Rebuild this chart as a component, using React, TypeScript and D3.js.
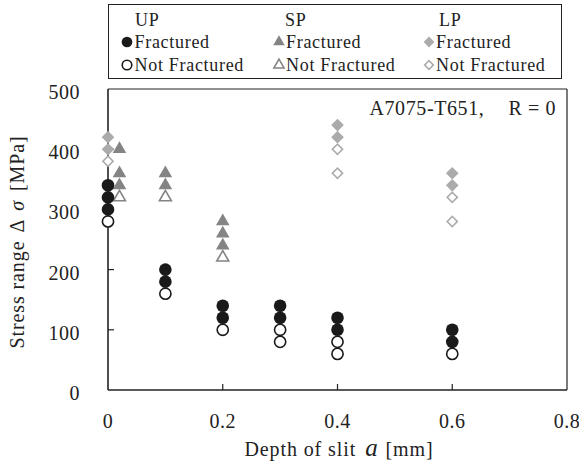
import React from "react";
import * as d3 from "d3";

const xTicks = [0, 0.2, 0.4, 0.6, 0.8];
const yTicks = [0, 100, 200, 300, 400, 500];

// UP
const upFracX = [0, 0, 0, 0.1, 0.1, 0.2, 0.2, 0.3, 0.3, 0.4, 0.4, 0.6, 0.6];
const upFracY = [340, 320, 300, 200, 180, 140, 120, 140, 120, 120, 100, 100, 80];
const upNotX = [0, 0.1, 0.2, 0.3, 0.3, 0.4, 0.4, 0.6];
const upNotY = [280, 160, 100, 100, 80, 80, 60, 60];
// SP
const spFracX = [0.02, 0.02, 0.02, 0.1, 0.1, 0.2, 0.2, 0.2];
const spFracY = [400, 360, 340, 360, 340, 280, 260, 240];
const spNotX = [0.02, 0.1, 0.2];
const spNotY = [320, 320, 220];
// LP
const lpFracX = [0, 0, 0.4, 0.4, 0.6, 0.6];
const lpFracY = [420, 400, 440, 420, 360, 340];
const lpNotX = [0, 0.4, 0.4, 0.6, 0.6];
const lpNotY = [380, 400, 360, 320, 280];

const W = 579;
const H = 472;
const left = 108;
const right = 567;
const top = 89;
const bottom = 390;

const FONT = "'Liberation Serif', serif";
const TXT = "#222";
const UPC = "#1a1a1a";
const SPC = "#848484";
const LPC = "#ababab";

const x = d3.scaleLinear().domain([0, 0.8]).range([left, right]);
const y = d3.scaleLinear().domain([0, 500]).range([bottom, top]);

const circlePath = d3.symbol().type(d3.symbolCircle).size(Math.PI * 6.3 * 6.3)()!;
const circleOpenPath = d3.symbol().type(d3.symbolCircle).size(Math.PI * 5.6 * 5.6)()!;
const triPath = d3.symbol().type(d3.symbolTriangle).size(80)()!;
const triOpenPath = d3.symbol().type(d3.symbolTriangle).size(62)()!;
const diaPath = d3.symbol().type(d3.symbolSquare).size(80)()!;
const diaOpenPath = d3.symbol().type(d3.symbolSquare).size(52)()!;

type Mk = "circle" | "tri" | "dia";

function Marker({ cx, cy, kind, filled, color, scale = 1 }: { cx: number; cy: number; kind: Mk; filled: boolean; color: string; scale?: number }) {
  let d = "";
  let rot = 0;
  if (kind === "circle") d = filled ? circlePath : circleOpenPath;
  if (kind === "tri") d = filled ? triPath : triOpenPath;
  if (kind === "dia") { d = filled ? diaPath : diaOpenPath; rot = 45; }
  return (
    <path
      d={d}
      transform={`translate(${cx},${cy}) rotate(${rot}) scale(${scale})`}
      fill={filled ? color : "#fff"}
      stroke={filled ? "none" : color}
      strokeWidth={filled ? 0 : 1.6 / scale}
    />
  );
}

function Series({ xs, ys, kind, filled, color }: { xs: number[]; ys: number[]; kind: Mk; filled: boolean; color: string }) {
  return (
    <g>
      {xs.map((v, i) => (
        <Marker key={i} cx={x(v)} cy={y(ys[i])} kind={kind} filled={filled} color={color} />
      ))}
    </g>
  );
}

export default function App() {
  const legendCols = [
    { name: "UP", kind: "circle" as Mk, color: UPC, mx: 127, tx: 134.5, hx: 135 },
    { name: "SP", kind: "tri" as Mk, color: SPC, mx: 279, tx: 286, hx: 285 },
    { name: "LP", kind: "dia" as Mk, color: LPC, mx: 429, tx: 436, hx: 439 },
  ];
  return (
    <svg width={W} height={H} style={{ position: "absolute", left: 0, top: 0 }} fontFamily={FONT}>
      <rect width={W} height={H} fill="#fff" />
      {/* legend */}
      <rect x={108.5} y={4.5} width={453} height={74} fill="#fff" stroke={TXT} strokeWidth={1} />
      {legendCols.map((c) => (
        <g key={c.name} fontSize={18} fill={TXT} letterSpacing={0.7}>
          <text x={c.hx} y={26}>{c.name}</text>
          <Marker cx={c.mx} cy={42} kind={c.kind} filled={true} color={c.color} scale={0.85} />
          <text x={c.tx} y={48}>Fractured</text>
          <Marker cx={c.mx} cy={65} kind={c.kind} filled={false} color={c.color} scale={0.85} />
          <text x={c.tx} y={71}>Not Fractured</text>
        </g>
      ))}

      {/* plot frame */}
      <line x1={left} x2={right} y1={top} y2={top} stroke={TXT} strokeWidth={1.2} />
      <line x1={right} x2={right} y1={top} y2={bottom} stroke={TXT} strokeWidth={1.2} />
      <line x1={left} x2={left} y1={top} y2={bottom} stroke={TXT} strokeWidth={1.6} />
      <line x1={left} x2={right} y1={bottom} y2={bottom} stroke={TXT} strokeWidth={1.6} />

      {xTicks.map((t) => (
        <g key={"x" + t}>
          {t > 0 && t < 0.8 && <line x1={x(t)} x2={x(t)} y1={bottom} y2={bottom - 6} stroke={TXT} strokeWidth={1.2} />}
          <text x={x(t)} y={428} textAnchor="middle" fontSize={20} letterSpacing={0.5} fill={TXT}>{t === 0 ? "0" : t.toFixed(1)}</text>
        </g>
      ))}
      {yTicks.map((t) => (
        <g key={"y" + t}>
          {t > 0 && t < 500 && <line x1={left} x2={left + 6} y1={y(t)} y2={y(t)} stroke={TXT} strokeWidth={1.2} />}
          <text x={80} y={y(t) + 10} textAnchor="end" fontSize={20} letterSpacing={0.5} fill={TXT}>{t}</text>
        </g>
      ))}

      <text x={339} y={456} textAnchor="middle" fontSize={20} letterSpacing={0.9} fill={TXT}>
        Depth of slit<tspan dx={9} fontStyle="italic" fontSize={25}>a</tspan><tspan dx={7}>[mm]</tspan>
      </text>
      <text transform={`translate(24,242) rotate(-90)`} textAnchor="middle" fontSize={20} letterSpacing={0.9} fill={TXT}>
        Stress range<tspan dx={8}>Δ</tspan><tspan dx={8} fontStyle="italic">σ</tspan><tspan dx={9}>[MPa]</tspan>
      </text>

      <text x={556} y={115} textAnchor="end" fontSize={20} letterSpacing={0.6} fill={TXT}>
        A7075-T651,<tspan dx={24}>R = 0</tspan>
      </text>

      {/* data */}
      <Series xs={lpNotX} ys={lpNotY} kind="dia" filled={false} color={LPC} />
      <Series xs={lpFracX} ys={lpFracY} kind="dia" filled={true} color={LPC} />
      <Series xs={spNotX} ys={spNotY} kind="tri" filled={false} color={SPC} />
      <Series xs={spFracX} ys={spFracY} kind="tri" filled={true} color={SPC} />
      <Series xs={upNotX} ys={upNotY} kind="circle" filled={false} color={UPC} />
      <Series xs={upFracX} ys={upFracY} kind="circle" filled={true} color={UPC} />
    </svg>
  );
}
